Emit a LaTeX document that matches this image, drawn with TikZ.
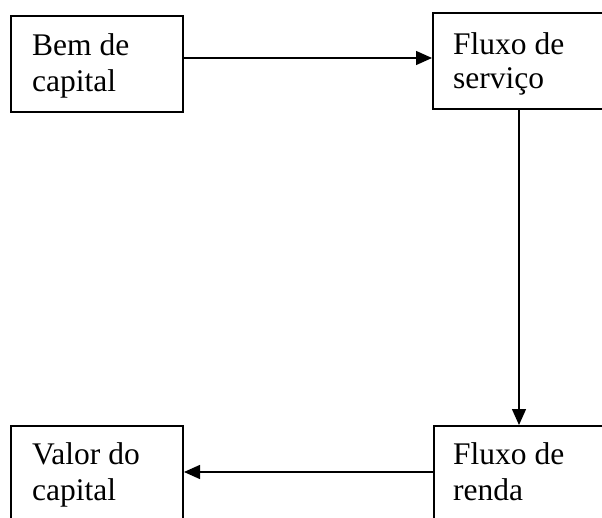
\documentclass[tikz,border=0pt]{standalone}
\usepackage{fontspec}
\setmainfont{Liberation Serif}
\usetikzlibrary{arrows.meta}
\tikzset{
  box/.style={draw=black, line width=2pt, fill=none, anchor=north west, inner sep=0pt},
  lbl/.style={anchor=base west, inner sep=0pt, align=left, font=\fontsize{31.5}{36}\selectfont},
  arr/.style={line width=1.4pt, -{Triangle[length=16pt,width=14pt]}}
}
\begin{document}
\begin{tikzpicture}[x=1pt,y=-1pt]
\useasboundingbox (0,0) rectangle (602,518);
\clip (0,0) rectangle (602,518);
\fill[white] (0,0) rectangle (602,518);
\node[box, minimum width=172pt, minimum height=96pt] (b1) at (10,15) {};
\node[box, minimum width=185pt, minimum height=96pt] (b2) at (432,12) {};
\node[box, minimum width=172pt, minimum height=110pt] (b3) at (10,425) {};
\node[box, minimum width=185pt, minimum height=110pt] (b4) at (433,425) {};
\node[lbl] (t1) at (32,91.5) {Bem de\\capital};
\node[lbl, font=\fontsize{31.5}{34}\selectfont] (t2) at (453,88.5) {Fluxo de\\serviço};
\node[lbl] (t3) at (32,500) {Valor do\\capital};
\node[lbl] (t4) at (453,500) {Fluxo de\\renda};
\coordinate (hy1) at (0,58);
\coordinate (vx) at (519,0);
\coordinate (hy2) at (0,472);
\draw[arr] (b1.east |- hy1) -- (b2.west |- hy1);
\draw[arr] (b2.south -| vx) -- (b4.north -| vx);
\draw[arr] (b4.west |- hy2) -- (b3.east |- hy2);
\end{tikzpicture}
\end{document}
